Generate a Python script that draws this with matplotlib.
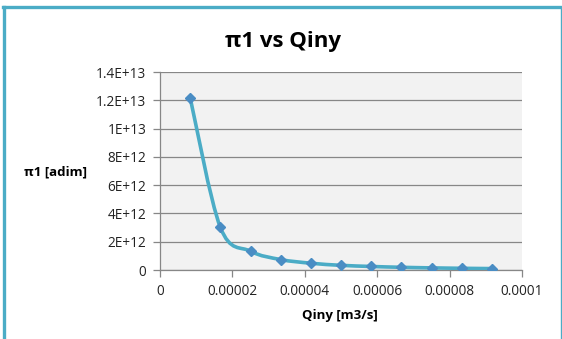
import numpy as np
import matplotlib.pyplot as plt
from matplotlib.path import Path
from matplotlib.patches import PathPatch
from matplotlib.lines import Line2D
from matplotlib.ticker import FixedLocator, FixedFormatter

# DATA
q_iny = [8.33e-6, 1.667e-5, 2.5e-5, 3.333e-5, 4.167e-5, 5.0e-5,
         5.833e-5, 6.667e-5, 7.5e-5, 8.333e-5, 9.167e-5]
pi1 = [12.18e12, 3.02e12, 1.33e12, 0.74e12, 0.48e12, 0.33e12,
       0.25e12, 0.19e12, 0.15e12, 0.12e12, 0.10e12]

x_ticks = [0, 0.00002, 0.00004, 0.00006, 0.00008, 0.0001]
x_labels = ["0", "0.00002", "0.00004", "0.00006", "0.00008", "0.0001"]
y_ticks = [0, 2e12, 4e12, 6e12, 8e12, 1e13, 1.2e13, 1.4e13]
y_labels = ["0", "2E+12", "4E+12", "6E+12", "8E+12", "1E+13", "1.2E+13", "1.4E+13"]

FONT = ["Open Sans", "DejaVu Sans"]
W, H = 562, 339
LINE_COL = "#4BACC6"
MARK_COL = "#4A8DC4"
GRID_COL = "#878787"

fig = plt.figure(figsize=(W / 100, H / 100), dpi=100)

# chart border (Excel chart area): thick left/top, thin right
fig.add_artist(Line2D([3.5 / W, 3.5 / W], [0, 1 - 7 / H], transform=fig.transFigure,
                      color=LINE_COL, linewidth=2.4))
fig.add_artist(Line2D([2.5 / W, 561 / W], [1 - 7 / H, 1 - 7 / H], transform=fig.transFigure,
                      color=LINE_COL, linewidth=2.4))
fig.add_artist(Line2D([560.5 / W, 560.5 / W], [0, 1 - 7 / H], transform=fig.transFigure,
                      color=LINE_COL, linewidth=1.0))

ax = fig.add_axes([160 / W, (H - 270) / H, 362 / W, 198 / H])
ax.set_facecolor("#F2F2F2")
ax.set_xlim(0, 0.0001)
ax.set_ylim(0, 1.4e13)

#Smoothed line like Excel (bezier through points, computed in pixel-like units)
sx, sy = 362 / 0.0001, 198 / 1.4e13
px = np.array(q_iny) * sx
py = np.array(pi1) * sy
verts = [(px[0], py[0])]
codes = [Path.MOVETO]
n = len(px)
for i in range(n - 1):
    p_prev = np.array([px[max(i - 1, 0)], py[max(i - 1, 0)]])
    p0 = np.array([px[i], py[i]])
    p1 = np.array([px[i + 1], py[i + 1]])
    p_next = np.array([px[min(i + 2, n - 1)], py[min(i + 2, n - 1)]])
    c1 = p0 + (p1 - p_prev) / 6
    c2 = p1 - (p_next - p0) / 6
    verts += [tuple(c1), tuple(c2), tuple(p1)]
    codes += [Path.CURVE4] * 3
verts = [(v[0] / sx, v[1] / sy) for v in verts]
ax.add_patch(PathPatch(Path(verts, codes), facecolor="none",
                       edgecolor=LINE_COL, linewidth=2.6, zorder=3,
                       capstyle="round", joinstyle="round"))
ax.plot(q_iny, pi1, linestyle="none", marker="D", markersize=5.5,
        color=MARK_COL, zorder=4)

#Axes styling
for side in ["top", "right"]:
    ax.spines[side].set_visible(False)
for side in ["left", "bottom"]:
    ax.spines[side].set_color(GRID_COL)
    ax.spines[side].set_linewidth(0.9)
ax.yaxis.grid(True, color=GRID_COL, linewidth=0.9)
ax.set_axisbelow(True)
ax.xaxis.set_major_locator(FixedLocator(x_ticks))
ax.xaxis.set_major_formatter(FixedFormatter(x_labels))
ax.yaxis.set_major_locator(FixedLocator(y_ticks))
ax.yaxis.set_major_formatter(FixedFormatter(y_labels))
ax.tick_params(direction="out", length=5, width=0.9, color=GRID_COL,
               labelsize=9.8, labelcolor="#222222", pad=5)
for lbl in ax.get_xticklabels() + ax.get_yticklabels():
    lbl.set_fontfamily(FONT)

#Titles
fig.text(283 / W, 1 - 41 / H, "π1 vs Qiny", ha="center", va="center",
         fontsize=16, fontweight="bold", family=FONT)
fig.text(55 / W, 1 - 172 / H, "π1 [adim]", ha="center", va="center",
         fontsize=9.5, fontweight="bold", family=FONT)
fig.text(340 / W, 1 - 316 / H, "Qiny [m3/s]", ha="center", va="center",
         fontsize=9.5, fontweight="bold", family=FONT)

fig.savefig("out.png", dpi=100)
